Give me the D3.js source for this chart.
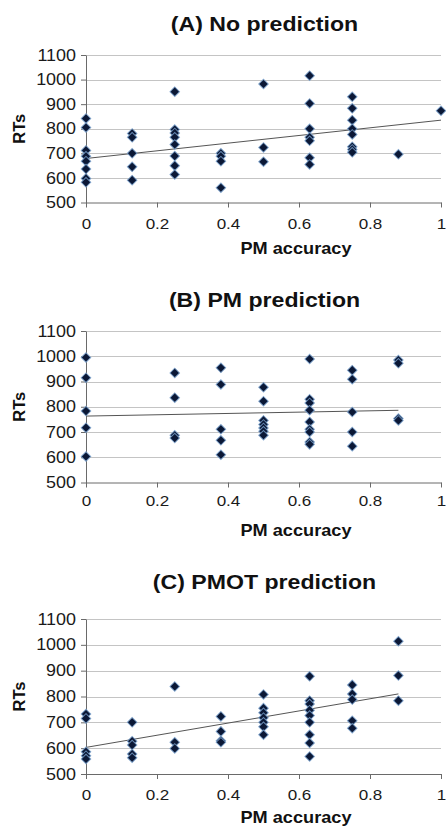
<!DOCTYPE html>
<html>
<head>
<meta charset="utf-8">
<script src="https://cdn.jsdelivr.net/npm/d3@7"></script>
<style>
  html, body { margin: 0; padding: 0; background: #fff; }
  svg { display: block; font-family: Arial, 'Liberation Sans', sans-serif; }
</style>
</head>
<body>
<svg id="chart" width="446" height="830"></svg>
<script>
// PM accuracy levels shared by all three panels (x values).
var accuracyLevels = [0, 0.13, 0.25, 0.38, 0.5, 0.63, 0.75, 0.88, 1];

// RTs per accuracy level, one inner list for each level above.
var noPredictionRTs = [
  [842, 805, 712, 688, 668, 636, 598, 582],
  [781, 765, 700, 645, 591],
  [951, 797, 783, 765, 736, 689, 650, 614],
  [700, 688, 668, 560],
  [982, 724, 666],
  [1016, 903, 800, 765, 751, 682, 655],
  [930, 883, 835, 800, 777, 727, 716, 704],
  [696],
  [873]
];
var pmPredictionRTs = [
  [995, 915, 783, 717, 603],
  [],
  [934, 836, 687, 676],
  [954, 888, 711, 667, 610],
  [877, 822, 746, 730, 716, 703, 687],
  [989, 830, 815, 786, 740, 711, 700, 660, 651],
  [945, 909, 779, 700, 644],
  [985, 972, 753, 746],
  []
];
var pmotPredictionRTs = [
  [732, 715, 586, 571, 558],
  [700, 627, 612, 577, 563],
  [839, 623, 599],
  [723, 665, 629, 623],
  [808, 755, 737, 718, 700, 683, 652],
  [878, 784, 771, 747, 726, 700, 652, 620, 568],
  [845, 810, 788, 706, 677],
  [1014, 881, 784],
  []
];

// Linear trendlines: [accuracy, RT] at start and end.
var noPredictionTrend = [[0, 679], [1, 835]];
var pmPredictionTrend = [[0, 763], [0.88, 786]];
var pmotPredictionTrend = [[0, 603], [0.88, 810]];

// Axis ticks.
var xTicks = [0, 0.2, 0.4, 0.6, 0.8, 1];
var xTickLabels = ['0', '0.2', '0.4', '0.6', '0.8', '1'];
var yTicks = [500, 600, 700, 800, 900, 1000, 1100];

var titles = ['(A) No prediction', '(B) PM prediction', '(C) PMOT prediction'];


/**
 * Widens a text selection horizontally, the source figure is stretched.
 * @param {!d3.Selection} sel Text elements.
 * @param {number} factor Width factor.
 */
function stretch(sel, factor) {
  sel.each(function() {
    var len = this.getComputedTextLength();
    d3.select(this).
        attr('textLength', len * factor).
        attr('lengthAdjust', 'spacingAndGlyphs');
  });
}


/**
 * Draws one scatter panel with its trendline.
 * @param {!d3.Selection} svg The root svg.
 * @param {!Object} p Panel layout and data.
 */
function drawPanel(svg, p) {
  var left = 86, right = 441;
  var x = d3.scaleLinear().domain([0, 1]).range([left, right]);
  var y = d3.scaleLinear().domain([500, 1100]).range([p.bottom, p.top]);
  var g = svg.append('g');

  // Title.
  g.append('text').
      attr('x', (left + right) / 2 + 1).
      attr('y', p.titleY).
      attr('text-anchor', 'middle').
      attr('font-size', 21).
      attr('font-weight', 'bold').
      attr('fill', '#111').
      text(p.title).
      call(stretch, 1.1);

  // Gridlines.
  g.append('g').
      selectAll('line').
      data(yTicks.slice(1)).
      join('line').
      attr('x1', left).
      attr('x2', right).
      attr('y1', function(d) { return Math.round(y(d)) + 0.5; }).
      attr('y2', function(d) { return Math.round(y(d)) + 0.5; }).
      attr('stroke', '#c4c4c4').
      attr('stroke-width', 1.2);

  // Y axis.
  var yAxis = g.append('g').
      attr('transform', 'translate(' + left + ',0)').
      call(d3.axisLeft(y).tickValues(yTicks).tickSize(5).tickPadding(5).
          tickSizeOuter(0).tickFormat(d3.format('d')));
  yAxis.selectAll('text').
      attr('font-size', 16).
      attr('fill', '#1a1a1a').
      call(stretch, 1.12);

  // X axis.
  var xAxis = g.append('g').
      attr('transform', 'translate(0,' + p.bottom + ')').
      call(d3.axisBottom(x).tickValues(xTicks).tickSize(5).tickSizeOuter(0).
          tickFormat(function(d, i) { return xTickLabels[i]; }));
  xAxis.selectAll('text').
      attr('y', p.tickY - p.bottom).
      attr('dy', 0).
      attr('font-size', 15.5).
      attr('fill', '#1a1a1a').
      call(stretch, 1.1);
  svg.selectAll('.domain, .tick line').attr('stroke', '#6a6a6a');

  // Axis titles.
  g.append('text').
      attr('x', 296).
      attr('y', p.labelY).
      attr('text-anchor', 'middle').
      attr('font-size', 16.5).
      attr('font-weight', 'bold').
      attr('fill', '#111').
      text('PM accuracy').
      call(stretch, 1.1);
  g.append('text').
      attr('transform', 'translate(25,' + (p.top + p.bottom) / 2 + ') rotate(-90)').
      attr('text-anchor', 'middle').
      attr('font-size', 16.5).
      attr('font-weight', 'bold').
      attr('fill', '#111').
      text('RTs');

  // Trendline.
  g.append('path').
      datum(p.trend).
      attr('d', d3.line().
          x(function(d) { return x(d[0]); }).
          y(function(d) { return y(d[1]); })).
      attr('fill', 'none').
      attr('stroke', '#555').
      attr('stroke-width', 1);

  // Points, flattened from the per-level lists.
  var points = [];
  p.rts.forEach(function(list, i) {
    list.forEach(function(rt) {
      points.push({acc: accuracyLevels[i], rt: rt});
    });
  });
  var diamond = d3.symbol().type(d3.symbolSquare).size(46);
  g.append('g').
      selectAll('path').
      data(points).
      join('path').
      attr('d', diamond).
      attr('transform', function(d) {
        return 'translate(' + x(d.acc) + ',' + y(d.rt) + ') rotate(45)';
      }).
      attr('fill', '#0b1836').
      attr('stroke', '#7aa3d0').
      attr('stroke-opacity', 0.8).
      attr('stroke-width', 1);
}

var svg = d3.select('#chart');
var panels = [
  {title: titles[0], rts: noPredictionRTs, trend: noPredictionTrend,
   top: 55, bottom: 202.5, titleY: 31, tickY: 229, labelY: 254},
  {title: titles[1], rts: pmPredictionRTs, trend: pmPredictionTrend,
   top: 331, bottom: 482.5, titleY: 307, tickY: 506, labelY: 536},
  {title: titles[2], rts: pmotPredictionRTs, trend: pmotPredictionTrend,
   top: 619, bottom: 774, titleY: 589, tickY: 800, labelY: 823}
];
panels.forEach(function(p) {
  drawPanel(svg, p);
});
</script>
</body>
</html>
